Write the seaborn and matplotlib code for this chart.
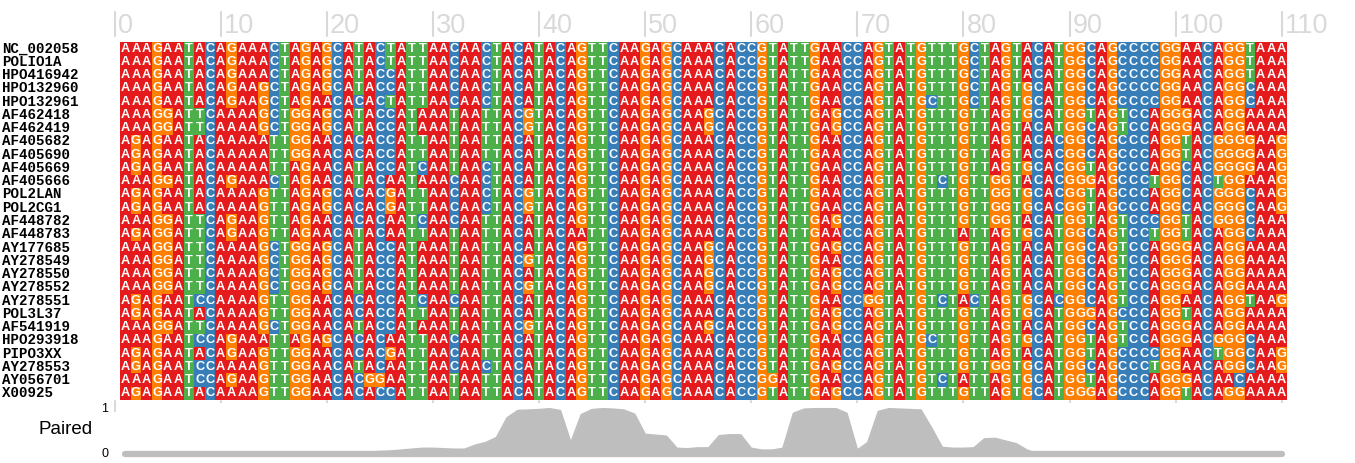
"""Poliovirus alignment: nucleotide grid with a base-pairing track underneath."""

import matplotlib

matplotlib.use("Agg")

import matplotlib.pyplot as plt
import matplotlib.transforms as mtransforms
import numpy as np
import seaborn as sns
from matplotlib.colors import ListedColormap

NAMES = [
    "NC_002058", "POLIO1A", "HPO416942", "HPO132960", "HPO132961", "AF462418",
    "AF462419", "AF405682", "AF405690", "AF405669", "AF405666", "POL2LAN",
    "POL2CG1", "AF448782", "AF448783", "AY177685", "AY278549", "AY278550",
    "AY278552", "AY278551", "POL3L37", "AF541919", "HPO293918", "PIPO3XX",
    "AY278553", "AY056701", "X00925",
]

SEQUENCES = [
    "AAAGAATACAGAAACTAGAGCATACTATTAACAACTACATACAGTTCAAGAGCAAACACCGTATTGAACCAGTATGTTTGCTAGTACATGGCAGCCCCGGAACAGGTAAA",
    "AAAGAATACAGAAACTAGAGCATACTATTAACAACTACATACAGTTCAAGAGCAAACACCGTATTGAACCAGTATGTTTGCTAGTACATGGCAGCCCCGGAACAGGTAAA",
    "AAAGAATACAGAAACTAGAGCATACCATTAACAACTACATACAGTTCAAGAGCAAACACCGTATTGAACCAGTATGTTTGCTAGTACATGGCAGCCCCGGAACAGGTAAA",
    "AAAGAATACAGAAGCTAGAGCATACCATTAACAACTACATACAGTTCAAGAGCAAACACCGTATTGAACCAGTATGTTTGCTAGTGCATGGCAGCCCCGGAACAGGCAAA",
    "AAAGAATACAGAAGCTAGAACACACTATTAACAACTACATACAGTTCAAGAGCAAACACCGTATTGAACCAGTATGCTTGCTAGTGCATGGCAGCCCCGGAACAGGCAAA",
    "AAAGGATTCAAAAGCTGGAGCATACCATAAATAATTACGTACAGTTCAAGAGCAAGCACCGTATTGAGCCAGTATGTTTGTTAGTGCATGGTAGTCCAGGGACAGGAAAA",
    "AAAGGATTCAAAAGCTGGAGCATACCATAAATAATTACGTACAGTTCAAGAGCAAGCACCGTATTGAGCCAGTATGTTTGTTAGTACATGGCAGTCCAGGGACAGGAAAA",
    "AGAGAATACAAAAATTGGAACACACCATTAATAATTACATACAGTTCAAGAGCAAACACCGTATTGAACCAGTATGTTTGTTAGTACACGGCAGCCCAGGTACGGGGAAG",
    "AGAGAATACAAAAATTGGAACACACCATTAATAATTACATACAGTTCAAGAGCAAACACCGTATTGAACCAGTATGTTTGTTAGTACACGGCAGCCCAGGTACGGGGAAG",
    "AGAGAATACAAAAATTAGAACATACCATCAATAACTACATACAGTTCAAGAGCAAACACCGTATTGAACCAGTATGTTTGTTAGTGCACGGTAGCCCAGGCACGGGGAAG",
    "AAAGGATACAGAAACTAGAACATACAATAAACAACTACATACAGTTCAAGAGCAAACACCGTATTGAACCAGTATGTCTGTTGGTACACGGGAGCCCTGGCACTGGAAAG",
    "AGAGAATACAAAAGTTAGAGCACACGATTAACAACTACGTACAGTTCAAGAGCAAACACCGTATTGAACCAGTATGTTTGTTGGTGCACGGTAGCCCAGGCACGGGCAAG",
    "AGAGAATACAAAAGTTAGAGCACACGATTAACAACTACGTACAGTTCAAGAGCAAACACCGTATTGAACCAGTATGTTTGTTGGTGCACGGTAGCCCAGGCACGGGCAAG",
    "AAAGGATTCAGAAGTTAGAACACACAATCAACAATTACATACAGTTCAAGAGCAAACACCGTATTGAGCCAGTATGTTTGTTGGTACATGGTAGTCCCGGTACGGGCAAA",
    "AGAGGATTCAGAAGTTAGAACATACAATTAATAATTACATACAATTCAAGAGCAAACACCGTATTGAACCAGTATGTTTATTAGTGCATGGCAGTCCTGGTACAGGCAAA",
    "AAAGGATTCAAAAGCTGGAGCATACCATAAATAATTACATACAGTTCAAGAGCAAGCACCGTATTGAGCCAGTATGTTTGTTAGTACATGGCAGTCCAGGGACAGGAAAA",
    "AAAGGATTCAAAAGCTGGAGCATACCATAAATAATTACGTACAGTTCAAGAGCAAGCACCGTATTGAACCAGTATGTTTGTTAGTACATGGCAGTCCAGGGACAGGAAAA",
    "AAAGGATTCAAAAGCTGGAGCATACCATAAATAATTACATACAGTTCAAGAGCAAGCACCGTATTGAGCCAGTATGTTTGTTAGTACATGGCAGTCCAGGGACAGGAAAA",
    "AAAGGATTCAAAAGCTGGAGCATACCATAAATAATTACGTACAGTTCAAGAGCAAGCACCGTATTGAGCCAGTATGTTTGTTAGTACATGGCAGTCCAGGGACAGGAAAA",
    "AGAGAATCCAAAAGTTGGAACACACCATCAACAATTACATACAGTTCAAGAGCAAACACCGTATTGAACCGGTATGTCTACTAGTGCACGGCAGTCCAGGAACAGGTAAG",
    "AGAGAATACAAAAGTTGGAACACACCATTAATAATTACATACAGTTCAAGAGCAAACACCGTATTGAGCCAGTATGTTTGTTAGTGCATGGGAGCCCAGGTACAGGAAAA",
    "AAAGGATTCAAAAGCTGGAACATACCATAAATAATTACGTACAGTTCAAGAGCAAGCACCGTATTGAGCCAGTATGTTTGTTAGTACATGGCAGTCCAGGGACAGGAAAA",
    "AAAGAATCCAGAAATTAGAGCACACAATTAACAATTACATACAGTTCAAGAGCAAACACCGTATTGAACCAGTATGCTTGTTAGTGCATGGTAGTCCAGGGACGGGCAAA",
    "AGAGAATACAGAAGTTGGAACACACGATTAACAATTACATACAGTTCAAGAGCAAACACCGTATTGAACCAGTATGTTTGTTAGTACATGGTAGCCCCGGAACTGGCAAG",
    "AGAGAATCCAAAAGTTGGAACATACAATTAACAACTACATACAGTTCAAGAGCAAACACCGTATTGAGCCAGTATGTTTGTTGGTGCATGGCAGCCCTGGAACAGGCAAG",
    "AAAGAATCCAGAAGTTGGAACACGGAATTAATAATTACATACAGTTCAAGAGCAAACACCGGATTGAACCAGTATGTCTATTAGTGCATGGTAGCCCAGGGACAACAAAA",
    "AGAGAATACAAAAGTTGGAACACACCATTAATAATTACATACAGTTCAAGAGCAAACACCGTATTGAGCCAGTATGTTTGTTAGTGCATGGGAGCCCAGGTACAGGAAAA",
]

BASES = ["A", "G", "C", "T"]
BASE_COLORS = ["#e41a1c", "#ff7f00", "#377eb8", "#4daf4a"]

# fraction paired per alignment column
PAIRED = [
    0.0, 0.0, 0.0, 0.0, 0.0, 0.0, 0.0, 0.0, 0.0, 0.0,
    0.0, 0.0, 0.0, 0.0, 0.0, 0.0, 0.0, 0.0, 0.0, 0.0,
    0.0, 0.0, 0.02, 0.04, 0.05, 0.06, 0.08, 0.1, 0.12, 0.12,
    0.11, 0.1, 0.1, 0.19, 0.25, 0.36, 0.8, 0.96, 0.97, 0.98,
    1.0, 0.96, 0.24, 0.87, 0.98, 1.0, 0.99, 0.97, 0.88, 0.43,
    0.41, 0.39, 0.12, 0.11, 0.13, 0.13, 0.4, 0.42, 0.42, 0.12,
    0.08, 0.08, 0.12, 0.9, 0.99, 1.0, 1.0, 1.0, 0.9, 0.08,
    0.25, 0.94, 1.0, 0.99, 0.98, 0.97, 0.57, 0.14, 0.12, 0.12,
    0.13, 0.33, 0.34, 0.28, 0.22, 0.08, 0.0, 0.0, 0.0, 0.0,
    0.0, 0.0, 0.0, 0.0, 0.0, 0.0, 0.0, 0.0, 0.0, 0.0,
    0.0, 0.0, 0.0, 0.0, 0.0, 0.0, 0.0, 0.0, 0.0, 0.0,
]

TICK_POSITIONS = list(range(0, 111, 10))

W, H = 1355, 463
GRID_GREY = "#d9d9d9"
TRACK_GREY = "#bebebe"


def main() -> None:
    sns.set_theme(style="white")
    plt.rcParams["font.family"] = ["Liberation Sans", "DejaVu Sans"]

    n_cols = len(SEQUENCES[0])
    assert all(len(s) == n_cols for s in SEQUENCES)
    letters = np.array([list(s) for s in SEQUENCES])
    codes = np.vectorize(BASES.index)(letters)

    fig = plt.figure(figsize=(W / 100, H / 100), dpi=100)

    # alignment grid: x 120..1287 px, y 42..400 px from top
    ax = fig.add_axes([120 / W, 63 / H, 1167 / W, 358 / H])
    sns.heatmap(
        codes,
        ax=ax,
        cmap=ListedColormap(BASE_COLORS),
        vmin=-0.5,
        vmax=3.5,
        cbar=False,
        annot=letters,
        fmt="",
        annot_kws={"color": "white", "fontsize": 9.2, "fontweight": "bold",
                   "family": "Liberation Sans"},
        xticklabels=False,
        yticklabels=False,
        linewidths=0,
    )
    ax.set_xlim(0, n_cols)
    ax.set_ylim(len(NAMES), 0)
    ax.tick_params(length=0)
    for spine in ax.spines.values():
        spine.set_visible(False)

    # position ruler along the top, plus short marks under the grid
    top = mtransforms.blended_transform_factory(ax.transData, ax.transAxes)
    for k in TICK_POSITIONS:
        x = k - 0.5
        ax.plot([x, x], [1.017, 1.084], transform=top, color=GRID_GREY, lw=1.5, clip_on=False)
        ax.plot([x, x], [-0.003, -0.03], transform=top, color=GRID_GREY, lw=1.5, clip_on=False)
        ax.text(x + 0.3, 1.025, str(k), transform=top, ha="left", va="baseline",
                fontsize=19.5, color=GRID_GREY)

    # sequence names in the left margin
    names_tr = mtransforms.blended_transform_factory(fig.transFigure, ax.transData)
    for i, name in enumerate(NAMES):
        ax.text(2 / W, i + 0.5, name, transform=names_tr, ha="left", va="center",
                family="Liberation Mono", fontweight="bold", fontsize=10.2, color="black")

    # paired track: value 0 at 454 px, value 1 at 409 px from top
    ax2 = fig.add_axes([120 / W, 4 / H, 1167 / W, 56 / H])
    xs = np.arange(n_cols) + 0.5
    ax2.fill_between(xs, 0, PAIRED, color=TRACK_GREY, lw=0)
    sns.lineplot(x=xs, y=PAIRED, ax=ax2, color=TRACK_GREY, lw=1.5)
    ax2.plot([xs[0], xs[-1]], [0, 0], color=TRACK_GREY, lw=4.5, solid_capstyle="round")
    ax2.set_xlim(0, n_cols)
    ax2.set_ylim(-5 / 45, 51 / 45)
    ax2.set_xticks([])
    ax2.set_yticks([])
    for spine in ax2.spines.values():
        spine.set_visible(False)

    track_tr = mtransforms.blended_transform_factory(fig.transFigure, ax2.transData)
    ax2.text(108 / W, 1.0, "1", transform=track_tr, ha="right", va="center", fontsize=9, color="black")
    ax2.text(108 / W, 0.0, "0", transform=track_tr, ha="right", va="center", fontsize=9, color="black")
    ax2.text(93 / W, 0.55, "Paired", transform=track_tr, ha="right", va="center",
             fontsize=13.5, color="black")

    fig.savefig("out.png", dpi=100)
    plt.close(fig)


if __name__ == "__main__":
    main()
